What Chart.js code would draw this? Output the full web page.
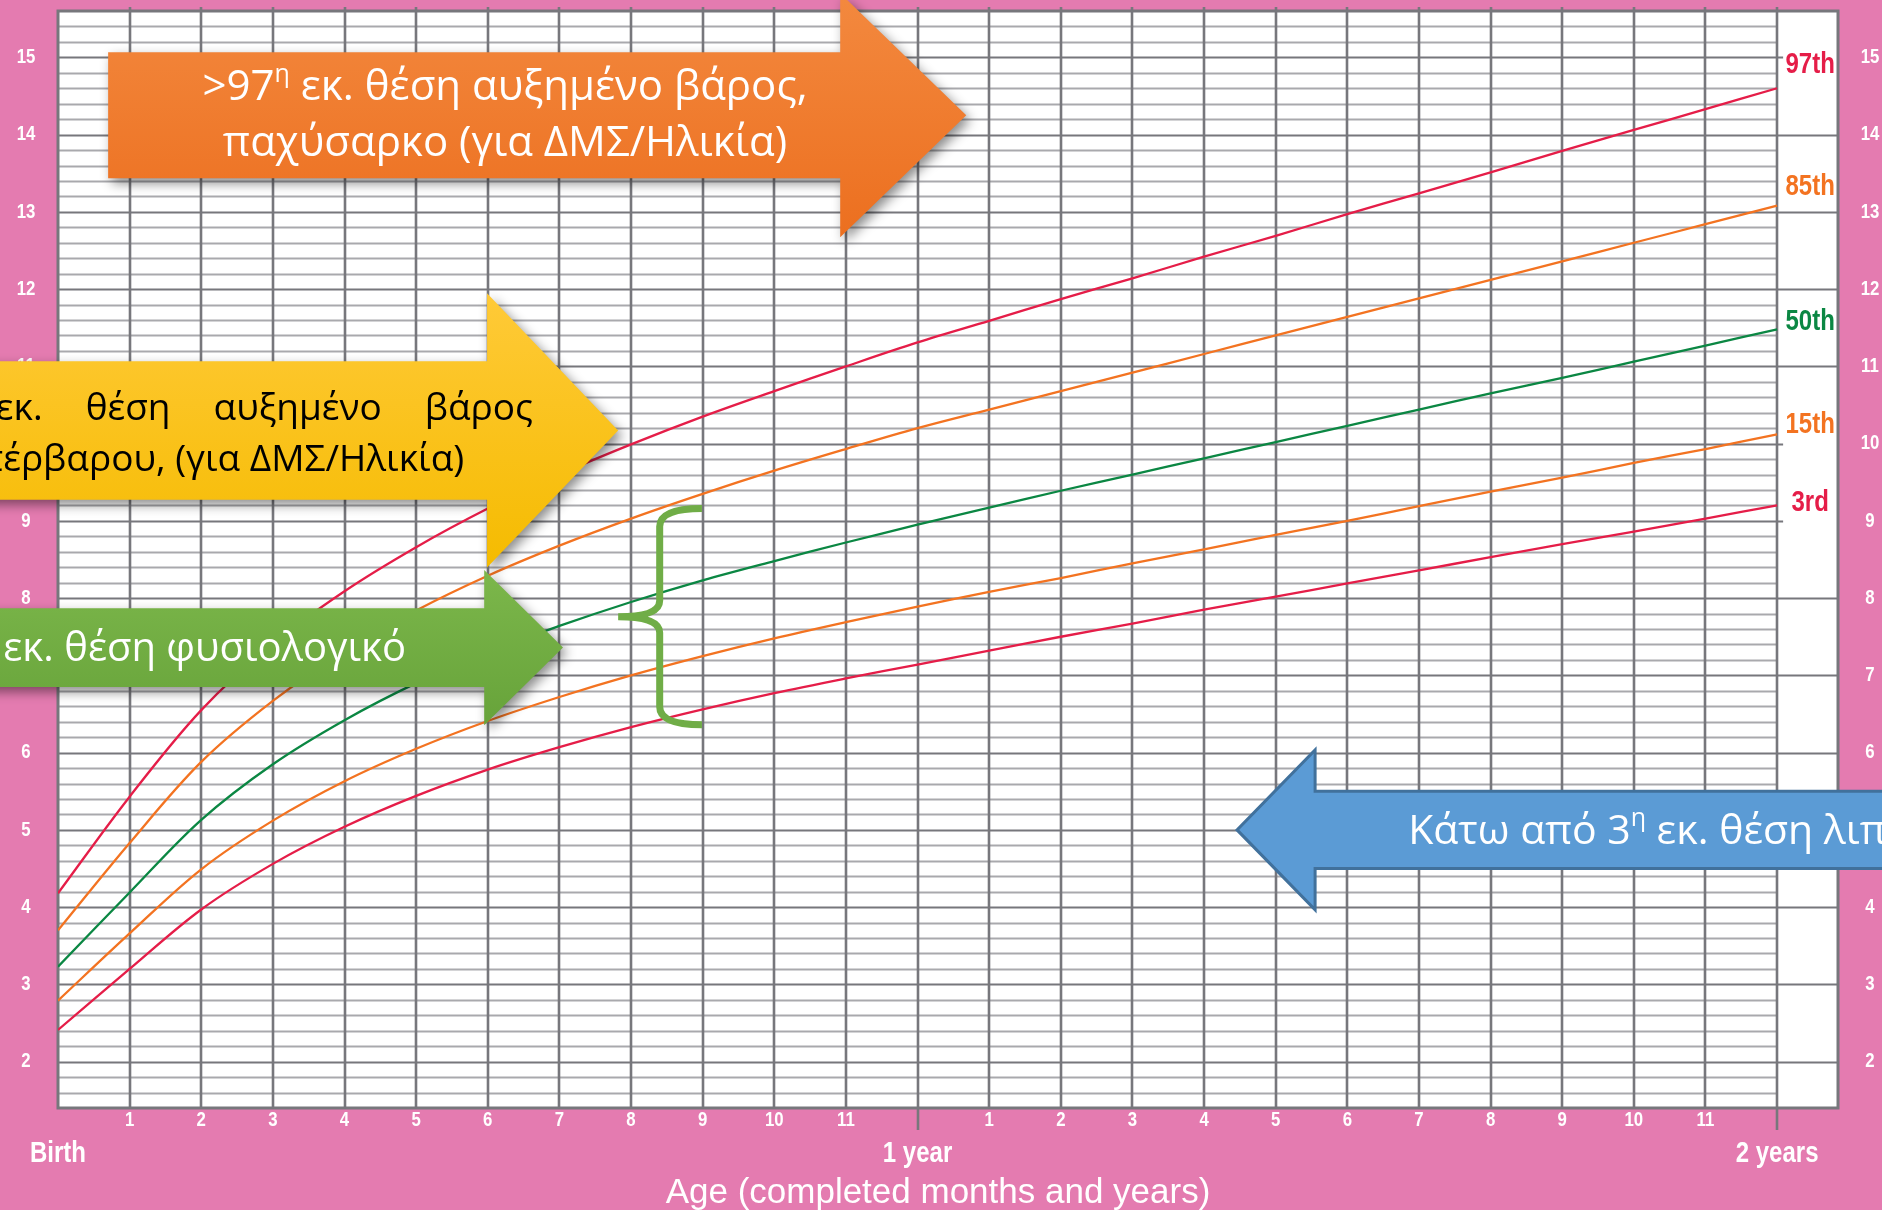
<!DOCTYPE html>
<html>
<head>
<meta charset="utf-8">
<script src="https://cdn.jsdelivr.net/npm/chart.js@4.4.1/dist/chart.umd.min.js"></script>
<style>
  html, body { margin: 0; padding: 0; background: #e47bb0; overflow: hidden; }
  #wrap { width: 1882px; height: 1210px; }
</style>
</head>
<body>
<div id="wrap"><canvas id="growth" width="1882" height="1210"></canvas></div>
<script>
"use strict";

// WHO weight-for-age, girls 0–2 years (kg)
const MONTHS = [0, 1, 2, 3, 4, 5, 6, 7, 8, 9, 10, 11, 12, 13, 14, 15, 16, 17, 18, 19, 20, 21, 22, 23, 24];
const P3  = [2.41, 3.20, 3.97, 4.56, 5.04, 5.44, 5.78, 6.07, 6.33, 6.56, 6.77, 6.96, 7.14, 7.32, 7.50, 7.67, 7.85, 8.02, 8.19, 8.36, 8.53, 8.70, 8.86, 9.03, 9.20];
const P15 = [2.79, 3.66, 4.49, 5.12, 5.63, 6.05, 6.41, 6.72, 7.00, 7.25, 7.48, 7.69, 7.89, 8.08, 8.26, 8.45, 8.63, 8.82, 9.00, 9.19, 9.38, 9.56, 9.75, 9.93, 10.12];
const P50 = [3.23, 4.19, 5.13, 5.85, 6.42, 6.90, 7.30, 7.64, 7.95, 8.23, 8.48, 8.72, 8.95, 9.17, 9.39, 9.60, 9.81, 10.02, 10.23, 10.44, 10.65, 10.85, 11.06, 11.27, 11.48];
const P85 = [3.70, 4.83, 5.88, 6.67, 7.31, 7.84, 8.29, 8.68, 9.03, 9.35, 9.65, 9.93, 10.20, 10.44, 10.68, 10.92, 11.16, 11.40, 11.64, 11.88, 12.12, 12.36, 12.60, 12.84, 13.08];
const P97 = [4.18, 5.43, 6.55, 7.41, 8.09, 8.66, 9.16, 9.60, 9.99, 10.35, 10.68, 11.00, 11.31, 11.59, 11.87, 12.14, 12.42, 12.69, 12.97, 13.24, 13.51, 13.79, 14.06, 14.33, 14.60];
const CURVE_LABELS = ["3rd", "15th", "50th", "85th", "97th"];
const Y_TICKS = [2, 3, 4, 5, 6, 7, 8, 9, 10, 11, 12, 13, 14, 15];
const MONTH_TICKS = [1, 2, 3, 4, 5, 6, 7, 8, 9, 10, 11];
const YEAR_TICKS = ["Birth", "1 year", "2 years"];

const RED = "#e51d48", ORANGE = "#f37321", GREEN = "#0b8743";
const PINK = "#e47bb0", GRID_D = "#77777c", GRID_L = "#a9a9ad";
const Y_MIN = 1.4, Y_MAX = 15.6, X_MAX = 24.85;
const SANS = "'Open Sans', 'Noto Sans', sans-serif";

const SERIES = [
  { data: P3, color: RED, lab: 0.03 },
  { data: P15, color: ORANGE, lab: 0.13 },
  { data: P50, color: GREEN, lab: 0.10 },
  { data: P85, color: ORANGE, lab: 0.25 },
  { data: P97, color: RED, lab: 0.30 },
];

const px = (c, m) => c.scales.x.getPixelForValue(m);
const py = (c, v) => c.scales.y.getPixelForValue(v);

// callouts, in chart units (months / kg)
const ARROWS = [
  { x0: 0.70, xh: 10.92, xt: 12.68, yc: 14.25, bh: 0.815, hh: 1.58, fill: ["#f3893f", "#ec6f1f"] },
  { x0: -1.6, xh: 5.99, xt: 7.82, yc: 10.17, bh: 0.895, hh: 1.775, fill: ["#ffca38", "#f5bb00"] },
  { x0: -1.6, xh: 5.95, xt: 7.05, yc: 7.36, bh: 0.51, hh: 1.005, fill: ["#7cb74b", "#67a33a"] },
  { x0: 26.5, xh: 17.55, xt: 16.46, yc: 5.0, bh: 0.50, hh: 1.035, fill: ["#5b9bd5", "#5b9bd5"], stroke: "#41719c" },
];

function arrowPath(ctx, c, a) {
  const X0 = px(c, a.x0), XH = px(c, a.xh), XT = px(c, a.xt), YC = py(c, a.yc);
  const BH = Math.abs(py(c, a.yc + a.bh) - YC), HH = Math.abs(py(c, a.yc + a.hh) - YC);
  ctx.beginPath();
  ctx.moveTo(X0, YC - BH); ctx.lineTo(XH, YC - BH); ctx.lineTo(XH, YC - HH);
  ctx.lineTo(XT, YC); ctx.lineTo(XH, YC + HH); ctx.lineTo(XH, YC + BH);
  ctx.lineTo(X0, YC + BH); ctx.closePath();
  return { top: YC - HH, bot: YC + HH };
}

function rich(ctx, parts, x, y, align, size, color) {
  ctx.fillStyle = color; ctx.textBaseline = "middle"; ctx.textAlign = "left";
  const font = (p) => `${p.sup ? Math.round(size * 0.6) : size}px ${SANS}`;
  let w = 0;
  parts.forEach((p) => { ctx.font = font(p); w += ctx.measureText(p.t).width; });
  let cx = align === "center" ? x - w / 2 : align === "right" ? x - w : x;
  parts.forEach((p) => {
    ctx.font = font(p);
    ctx.fillText(p.t, cx, p.sup ? y - size * 0.32 : y);
    cx += ctx.measureText(p.t).width;
  });
}

// condensed lettering: Arial-metric font squeezed horizontally
function narrow(ctx, text, x, y, size, weight, color) {
  ctx.save();
  ctx.translate(x, y); ctx.scale(0.8, 1);
  ctx.font = `${weight} ${size}px 'Liberation Sans', Arial, sans-serif`;
  ctx.fillStyle = color; ctx.textAlign = "center"; ctx.textBaseline = "middle";
  ctx.fillText(text, 0, 0);
  ctx.restore();
}

const paper = {
  id: "paper",
  beforeDraw(c) {
    const ctx = c.ctx, a = c.chartArea;
    ctx.save();
    ctx.fillStyle = PINK; ctx.fillRect(0, 0, c.width, c.height);
    ctx.fillStyle = "#fff"; ctx.fillRect(a.left, a.top, a.right - a.left, a.bottom - a.top);
    ctx.restore();
  },
  beforeDatasetsDraw(c) {
    const ctx = c.ctx, a = c.chartArea, x24 = px(c, 24);
    ctx.save();
    ctx.lineWidth = 2.2;
    for (let i = 16; i < 156; i += 2) {          // 0.2 kg minor lines, 1 kg majors
      const y = Math.round(py(c, i / 10)) + 0.5;
      const major = i % 10 === 0;
      ctx.strokeStyle = major ? GRID_D : GRID_L;
      const xr = major ? ([90, 100, 150].includes(i) ? x24 + 6 : a.right) : x24;
      ctx.beginPath(); ctx.moveTo(a.left, y); ctx.lineTo(xr, y); ctx.stroke();
    }
    ctx.strokeStyle = GRID_D; ctx.lineWidth = 2.6;
    for (let m = 1; m <= 24; m++) {
      const x = Math.round(px(c, m));
      ctx.beginPath(); ctx.moveTo(x, a.top - 4);
      ctx.lineTo(x, m % 12 === 0 ? a.bottom + 22 : a.bottom); ctx.stroke();
    }
    ctx.lineWidth = 3;
    ctx.strokeRect(a.left, a.top, a.right - a.left, a.bottom - a.top);
    ctx.restore();
  },
  afterDatasetsDraw(c) {
    const ctx = c.ctx, a = c.chartArea;
    ctx.save();

    // curve names at the 2-year end
    SERIES.forEach((s, i) => narrow(ctx, CURVE_LABELS[i], px(c, 24) + 33,
      py(c, s.data[s.data.length - 1] + s.lab), 30, "bold", s.color));

    // axis labels
    Y_TICKS.forEach((v) => {
      narrow(ctx, String(v), a.left - 32, py(c, v), 21, "bold", "#fff");
      narrow(ctx, String(v), a.right + 32, py(c, v), 21, "bold", "#fff");
    });
    MONTH_TICKS.forEach((m) => {
      narrow(ctx, String(m), px(c, m), a.bottom + 12, 21, "bold", "#fff");
      narrow(ctx, String(m), px(c, m + 12), a.bottom + 12, 21, "bold", "#fff");
    });
    YEAR_TICKS.forEach((t, i) => narrow(ctx, t, px(c, i * 12), a.bottom + 46, 30, "bold", "#fff"));
    ctx.fillStyle = "#fff"; ctx.textAlign = "center"; ctx.textBaseline = "middle";
    ctx.font = `35px 'Liberation Sans', sans-serif`;
    ctx.fillText("Age (completed months and years)", (a.left + a.right) / 2 - 10, a.bottom + 85);

    // block arrows
    ARROWS.forEach((ar) => {
      ctx.save();
      const box = arrowPath(ctx, c, ar);
      const g = ctx.createLinearGradient(0, box.top, 0, box.bot);
      g.addColorStop(0, ar.fill[0]); g.addColorStop(1, ar.fill[1]);
      ctx.fillStyle = g;
      if (!ar.stroke) {
        ctx.shadowColor = "rgba(0,0,0,0.45)"; ctx.shadowBlur = 12;
        ctx.shadowOffsetX = 4; ctx.shadowOffsetY = 5;
      }
      ctx.fill();
      ctx.shadowColor = "transparent";
      if (ar.stroke) { ctx.strokeStyle = ar.stroke; ctx.lineWidth = 3; ctx.stroke(); }
      ctx.restore();
    });

    // orange
    rich(ctx, [{ t: ">97" }, { t: "η", sup: true }, { t: " εκ. θέση αυξημένο βάρος," }],
         px(c, 6.24), py(c, 14.6), "center", 42, "#fff");
    rich(ctx, [{ t: "παχύσαρκο (για ΔΜΣ/Ηλικία)" }], px(c, 6.24), py(c, 13.88), "center", 42, "#fff");
    // yellow, justified first line
    let xr = px(c, 6.63);
    ["βάρος", "αυξημένο", "θέση", "εκ."].forEach((w) => {
      rich(ctx, [{ t: w }], xr, py(c, 10.44), "right", 37, "#000");
      ctx.font = `37px ${SANS}`;
      xr -= ctx.measureText(w).width + 43;
    });
    rich(ctx, [{ t: "υπέρβαρου, (για ΔΜΣ/Ηλικία)" }], px(c, 5.67), py(c, 9.78), "right", 37, "#000");
    // green
    rich(ctx, [{ t: "εκ. θέση φυσιολογικό" }], px(c, 4.86), py(c, 7.33), "right", 40, "#fff");
    // blue
    rich(ctx, [{ t: "Κάτω από 3" }, { t: "η", sup: true }, { t: " εκ. θέση λιποβαρές" }],
         px(c, 18.85), py(c, 4.97), "left", 41, "#fff");

    // green brace spanning the normal band
    const bx = px(c, 8.40), tipx = px(c, 7.82), endx = px(c, 8.99);
    const yt = py(c, 9.16), ym = py(c, 7.76), yb = py(c, 6.36);
    ctx.strokeStyle = "#70ad47"; ctx.lineWidth = 7;
    ctx.beginPath();
    ctx.moveTo(endx, yt);
    ctx.quadraticCurveTo(bx, yt, bx, yt + 18);
    ctx.lineTo(bx, ym - 16);
    ctx.quadraticCurveTo(bx, ym, tipx, ym);
    ctx.quadraticCurveTo(bx, ym, bx, ym + 16);
    ctx.lineTo(bx, yb - 18);
    ctx.quadraticCurveTo(bx, yb, endx, yb);
    ctx.stroke();

    ctx.restore();
  },
};

new Chart(document.getElementById("growth"), {
  type: "line",
  data: {
    datasets: SERIES.map((s) => ({
      data: MONTHS.map((m, i) => ({ x: m, y: s.data[i] })),
      borderColor: s.color, borderWidth: 2.3, pointRadius: 0,
      tension: 0.35, fill: false,
    })),
  },
  options: {
    responsive: false, devicePixelRatio: 1, animation: false,
    layout: { padding: { left: 58, top: 11, right: 44, bottom: 102 } },
    plugins: { legend: { display: false }, tooltip: { enabled: false } },
    scales: {
      x: { type: "linear", min: 0, max: X_MAX, display: false },
      y: { type: "linear", min: Y_MIN, max: Y_MAX, display: false },
    },
  },
  plugins: [paper],
});
</script>
</body>
</html>
